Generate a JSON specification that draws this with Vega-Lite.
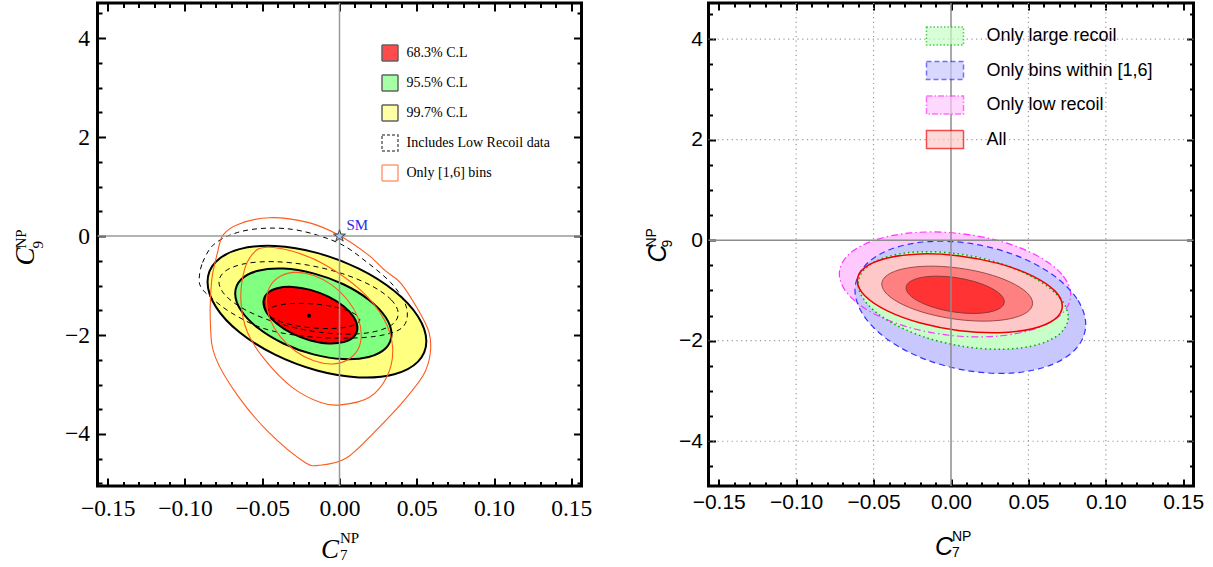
{
"$schema": "https://vega.github.io/schema/vega-lite/v6.json",
"background": "white",
"padding": {"left": 9.5, "top": 0, "right": 0, "bottom": 0},
"autosize": {"type": "pad"},
"bounds": "flush",
"spacing": 127,
"config": {"view": {"stroke": "black", "strokeWidth": 3}, "legend": {"labelLimit": 400}},
"datasets": {
"ly": [{"i":0,"x":0.0562,"y":-2.128},{"i":1,"x":0.0508,"y":-1.627},{"i":2,"x":0.0355,"y":-1.112},{"i":3,"x":0.0125,"y":-0.660},{"i":4,"x":-0.0146,"y":-0.340},{"i":5,"x":-0.0417,"y":-0.201},{"i":6,"x":-0.0647,"y":-0.265},{"i":7,"x":-0.0800,"y":-0.520},{"i":8,"x":-0.0854,"y":-0.930},{"i":9,"x":-0.0800,"y":-1.431},{"i":10,"x":-0.0647,"y":-1.946},{"i":11,"x":-0.0417,"y":-2.398},{"i":12,"x":-0.0146,"y":-2.718},{"i":13,"x":0.0125,"y":-2.857},{"i":14,"x":0.0355,"y":-2.793},{"i":15,"x":0.0508,"y":-2.538}],
"lg": [{"i":0,"x":0.0337,"y":-1.985},{"i":1,"x":0.0299,"y":-1.640},{"i":2,"x":0.0189,"y":-1.286},{"i":3,"x":0.0025,"y":-0.974},{"i":4,"x":-0.0169,"y":-0.754},{"i":5,"x":-0.0363,"y":-0.658},{"i":6,"x":-0.0527,"y":-0.702},{"i":7,"x":-0.0637,"y":-0.878},{"i":8,"x":-0.0675,"y":-1.160},{"i":9,"x":-0.0637,"y":-1.505},{"i":10,"x":-0.0527,"y":-1.860},{"i":11,"x":-0.0363,"y":-2.171},{"i":12,"x":-0.0169,"y":-2.391},{"i":13,"x":0.0025,"y":-2.487},{"i":14,"x":0.0189,"y":-2.443},{"i":15,"x":0.0299,"y":-2.267}],
"lr": [{"i":0,"x":0.0116,"y":-1.857},{"i":1,"x":0.0093,"y":-1.642},{"i":2,"x":0.0027,"y":-1.420},{"i":3,"x":-0.0072,"y":-1.226},{"i":4,"x":-0.0188,"y":-1.088},{"i":5,"x":-0.0304,"y":-1.028},{"i":6,"x":-0.0403,"y":-1.056},{"i":7,"x":-0.0469,"y":-1.165},{"i":8,"x":-0.0492,"y":-1.342},{"i":9,"x":-0.0469,"y":-1.557},{"i":10,"x":-0.0403,"y":-1.779},{"i":11,"x":-0.0304,"y":-1.973},{"i":12,"x":-0.0188,"y":-2.111},{"i":13,"x":-0.0072,"y":-2.171},{"i":14,"x":0.0027,"y":-2.143},{"i":15,"x":0.0093,"y":-2.034}],
"ld": [{"k":1,"i":0,"x":0.0131,"y":-1.691},{"k":1,"i":1,"x":0.0108,"y":-1.593},{"k":1,"i":2,"x":0.0043,"y":-1.497},{"k":1,"i":3,"x":-0.0053,"y":-1.420},{"k":1,"i":4,"x":-0.0168,"y":-1.372},{"k":1,"i":5,"x":-0.0283,"y":-1.361},{"k":1,"i":6,"x":-0.0379,"y":-1.389},{"k":1,"i":7,"x":-0.0444,"y":-1.451},{"k":1,"i":8,"x":-0.0467,"y":-1.539},{"k":1,"i":9,"x":-0.0444,"y":-1.637},{"k":1,"i":10,"x":-0.0379,"y":-1.733},{"k":1,"i":11,"x":-0.0283,"y":-1.810},{"k":1,"i":12,"x":-0.0168,"y":-1.858},{"k":1,"i":13,"x":-0.0053,"y":-1.869},{"k":1,"i":14,"x":0.0043,"y":-1.841},{"k":1,"i":15,"x":0.0108,"y":-1.779},
{"k":2,"i":0,"x":0.038,"y":-1.570},{"k":2,"i":1,"x":0.0336,"y":-1.293},{"k":2,"i":2,"x":0.021,"y":-1.010},{"k":2,"i":3,"x":0.0022,"y":-0.763},{"k":2,"i":4,"x":-0.020,"y":-0.590},{"k":2,"i":5,"x":-0.0422,"y":-0.518},{"k":2,"i":6,"x":-0.061,"y":-0.557},{"k":2,"i":7,"x":-0.0736,"y":-0.702},{"k":2,"i":8,"x":-0.078,"y":-0.930},{"k":2,"i":9,"x":-0.0736,"y":-1.207},{"k":2,"i":10,"x":-0.061,"y":-1.490},{"k":2,"i":11,"x":-0.0422,"y":-1.737},{"k":2,"i":12,"x":-0.020,"y":-1.910},{"k":2,"i":13,"x":0.0022,"y":-1.982},{"k":2,"i":14,"x":0.021,"y":-1.943},{"k":2,"i":15,"x":0.0336,"y":-1.799},
{"k":3,"i":0,"x":-0.0908,"y":-0.872},{"k":3,"i":1,"x":-0.0886,"y":-0.535},{"k":3,"i":2,"x":-0.0811,"y":-0.164},{"k":3,"i":3,"x":-0.066,"y":0.072},{"k":3,"i":4,"x":-0.0466,"y":0.159},{"k":3,"i":5,"x":-0.025,"y":0.105},{"k":3,"i":6,"x":0.0001,"y":-0.151},{"k":3,"i":7,"x":0.018,"y":-0.535},{"k":3,"i":8,"x":0.0331,"y":-0.939},{"k":3,"i":9,"x":0.0417,"y":-1.310},{"k":3,"i":10,"x":0.0439,"y":-1.613},{"k":3,"i":11,"x":0.0406,"y":-1.849},{"k":3,"i":12,"x":0.031,"y":-1.980},{"k":3,"i":13,"x":0.0159,"y":-2.050},{"k":3,"i":14,"x":-0.0057,"y":-2.060},{"k":3,"i":15,"x":-0.0294,"y":-2.000},{"k":3,"i":16,"x":-0.0509,"y":-1.849},{"k":3,"i":17,"x":-0.0703,"y":-1.546},{"k":3,"i":18,"x":-0.0832,"y":-1.242},{"k":3,"i":19,"x":-0.0892,"y":-1.054}],
"lo": [{"k":1,"i":0,"x":0.0141,"y":-1.995},{"k":1,"i":1,"x":0.0118,"y":-1.639},{"k":1,"i":2,"x":0.0051,"y":-1.287},{"k":1,"i":3,"x":-0.0048,"y":-0.992},{"k":1,"i":4,"x":-0.0166,"y":-0.798},{"k":1,"i":5,"x":-0.0284,"y":-0.735},{"k":1,"i":6,"x":-0.0383,"y":-0.814},{"k":1,"i":7,"x":-0.045,"y":-1.020},{"k":1,"i":8,"x":-0.0473,"y":-1.325},{"k":1,"i":9,"x":-0.045,"y":-1.681},{"k":1,"i":10,"x":-0.0383,"y":-2.033},{"k":1,"i":11,"x":-0.0284,"y":-2.328},{"k":1,"i":12,"x":-0.0166,"y":-2.522},{"k":1,"i":13,"x":-0.0048,"y":-2.585},{"k":1,"i":14,"x":0.0051,"y":-2.506},{"k":1,"i":15,"x":0.0118,"y":-2.300},
{"k":2,"i":0,"x":-0.0488,"y":-0.231},{"k":2,"i":1,"x":-0.0315,"y":-0.299},{"k":2,"i":2,"x":-0.0100,"y":-0.568},{"k":2,"i":3,"x":0.0137,"y":-1.094},{"k":2,"i":4,"x":0.0288,"y":-1.680},{"k":2,"i":5,"x":0.0344,"y":-2.253},{"k":2,"i":6,"x":0.0309,"y":-2.826},{"k":2,"i":7,"x":0.0191,"y":-3.264},{"k":2,"i":8,"x":0.0008,"y":-3.412},{"k":2,"i":9,"x":-0.0121,"y":-3.365},{"k":2,"i":10,"x":-0.0304,"y":-3.062},{"k":2,"i":11,"x":-0.0477,"y":-2.523},{"k":2,"i":12,"x":-0.0595,"y":-1.950},{"k":2,"i":13,"x":-0.0638,"y":-1.310},{"k":2,"i":14,"x":-0.0617,"y":-0.703},{"k":2,"i":15,"x":-0.0563,"y":-0.366},
{"k":3,"i":0,"x":-0.0753,"y":0.022},{"k":3,"i":1,"x":-0.0653,"y":0.240},{"k":3,"i":2,"x":-0.0454,"y":0.371},{"k":3,"i":3,"x":-0.0205,"y":0.276},{"k":3,"i":4,"x":-0.0006,"y":0.022},{"k":3,"i":5,"x":0.0180,"y":-0.366},{"k":3,"i":6,"x":0.0296,"y":-0.700},{"k":3,"i":7,"x":0.0396,"y":-0.950},{"k":3,"i":8,"x":0.0505,"y":-1.470},{"k":3,"i":9,"x":0.0579,"y":-1.942},{"k":3,"i":10,"x":0.0587,"y":-2.378},{"k":3,"i":11,"x":0.0542,"y":-2.815},{"k":3,"i":12,"x":0.0417,"y":-3.324},{"k":3,"i":13,"x":0.0243,"y":-3.905},{"k":3,"i":14,"x":0.0044,"y":-4.487},{"k":3,"i":15,"x":-0.0131,"y":-4.633},{"k":3,"i":16,"x":-0.0230,"y":-4.560},{"k":3,"i":17,"x":-0.0454,"y":-3.978},{"k":3,"i":18,"x":-0.0653,"y":-3.251},{"k":3,"i":19,"x":-0.0803,"y":-2.451},{"k":3,"i":20,"x":-0.0835,"y":-1.796},{"k":3,"i":21,"x":-0.0828,"y":-0.924},{"k":3,"i":22,"x":-0.0790,"y":-0.342}],
"lleg": [{"s":"68.3% C.L"},{"s":"95.5% C.L"},{"s":"99.7% C.L"},{"s":"Includes Low Recoil data"},{"s":"Only [1,6] bins"}],
"rleg": [{"s":"Only large recoil"},{"s":"Only bins within [1,6]"},{"s":"Only low recoil"},{"s":"All"}],
"lpt": [{"x":-0.0197,"y":-1.61}],
"lsm": [{"x":0,"y":0,"lab":"SM"}],
"zero": [{"v":0}],
"gx": [{"v":-0.1},{"v":-0.05},{"v":0.05},{"v":0.1}],
"gy": [{"v":-4},{"v":-2},{"v":2},{"v":4}],
"rm": [{"i":0,"x":0.0773,"y":-1.089},{"i":1,"x":0.0716,"y":-0.681},{"i":2,"x":0.0554,"y":-0.305},{"i":3,"x":0.0312,"y":-0.015},{"i":4,"x":0.0026,"y":0.143},{"i":5,"x":-0.026,"y":0.145},{"i":6,"x":-0.0502,"y":-0.009},{"i":7,"x":-0.0664,"y":-0.295},{"i":8,"x":-0.0721,"y":-0.671},{"i":9,"x":-0.0664,"y":-1.079},{"i":10,"x":-0.0502,"y":-1.456},{"i":11,"x":-0.026,"y":-1.745},{"i":12,"x":0.0026,"y":-1.903},{"i":13,"x":0.0312,"y":-1.905},{"i":14,"x":0.0554,"y":-1.751},{"i":15,"x":0.0716,"y":-1.465}],
"rb": [{"i":0,"x":0.087,"y":-1.677},{"i":1,"x":0.0813,"y":-1.165},{"i":2,"x":0.0652,"y":-0.679},{"i":3,"x":0.041,"y":-0.293},{"i":4,"x":0.0125,"y":-0.065},{"i":5,"x":-0.016,"y":-0.031},{"i":6,"x":-0.0402,"y":-0.195},{"i":7,"x":-0.0563,"y":-0.533},{"i":8,"x":-0.062,"y":-0.993},{"i":9,"x":-0.0563,"y":-1.505},{"i":10,"x":-0.0402,"y":-1.991},{"i":11,"x":-0.016,"y":-2.378},{"i":12,"x":0.0125,"y":-2.605},{"i":13,"x":0.041,"y":-2.640},{"i":14,"x":0.0652,"y":-2.475},{"i":15,"x":0.0813,"y":-2.138}],
"rg": [{"i":0,"x":0.0757,"y":-1.530},{"i":1,"x":0.0705,"y":-1.155},{"i":2,"x":0.0558,"y":-0.788},{"i":3,"x":0.0339,"y":-0.483},{"i":4,"x":0.0079,"y":-0.287},{"i":5,"x":-0.0181,"y":-0.230},{"i":6,"x":-0.04,"y":-0.321},{"i":7,"x":-0.0547,"y":-0.545},{"i":8,"x":-0.0599,"y":-0.870},{"i":9,"x":-0.0547,"y":-1.245},{"i":10,"x":-0.04,"y":-1.612},{"i":11,"x":-0.0181,"y":-1.917},{"i":12,"x":0.0079,"y":-2.113},{"i":13,"x":0.0339,"y":-2.170},{"i":14,"x":0.0558,"y":-2.079},{"i":15,"x":0.0705,"y":-1.855}],
"ra": [{"i":0,"x":0.0719,"y":-1.308},{"i":1,"x":0.0669,"y":-1.004},{"i":2,"x":0.0525,"y":-0.709},{"i":3,"x":0.0311,"y":-0.466},{"i":4,"x":0.0057,"y":-0.313},{"i":5,"x":-0.0197,"y":-0.273},{"i":6,"x":-0.0411,"y":-0.354},{"i":7,"x":-0.0555,"y":-0.540},{"i":8,"x":-0.0605,"y":-0.806},{"i":9,"x":-0.0555,"y":-1.110},{"i":10,"x":-0.0411,"y":-1.406},{"i":11,"x":-0.0197,"y":-1.648},{"i":12,"x":0.0057,"y":-1.801},{"i":13,"x":0.0311,"y":-1.841},{"i":14,"x":0.0525,"y":-1.761},{"i":15,"x":0.0669,"y":-1.574}],
"r2": [{"i":0,"x":0.0527,"y":-1.254},{"i":1,"x":0.049,"y":-1.043},{"i":2,"x":0.0384,"y":-0.836},{"i":3,"x":0.0227,"y":-0.663},{"i":4,"x":0.004,"y":-0.551},{"i":5,"x":-0.0147,"y":-0.517},{"i":6,"x":-0.0304,"y":-0.567},{"i":7,"x":-0.041,"y":-0.692},{"i":8,"x":-0.0447,"y":-0.874},{"i":9,"x":-0.041,"y":-1.084},{"i":10,"x":-0.0304,"y":-1.292},{"i":11,"x":-0.0147,"y":-1.464},{"i":12,"x":0.004,"y":-1.576},{"i":13,"x":0.0227,"y":-1.610},{"i":14,"x":0.0384,"y":-1.561},{"i":15,"x":0.049,"y":-1.436}],
"r1": [{"i":0,"x":0.0344,"y":-1.224},{"i":1,"x":0.032,"y":-1.082},{"i":2,"x":0.0251,"y":-0.940},{"i":3,"x":0.0148,"y":-0.821},{"i":4,"x":0.0027,"y":-0.742},{"i":5,"x":-0.0094,"y":-0.716},{"i":6,"x":-0.0197,"y":-0.746},{"i":7,"x":-0.0266,"y":-0.828},{"i":8,"x":-0.029,"y":-0.950},{"i":9,"x":-0.0266,"y":-1.093},{"i":10,"x":-0.0197,"y":-1.234},{"i":11,"x":-0.0094,"y":-1.353},{"i":12,"x":0.0027,"y":-1.432},{"i":13,"x":0.0148,"y":-1.458},{"i":14,"x":0.0251,"y":-1.428},{"i":15,"x":0.032,"y":-1.346}]
},
"hconcat": [
{
 "width": 484, "height": 483,
 "layer": [
  {"data": {"name": "ly"}, "mark": {"type": "line", "interpolate": "cardinal-closed", "fill": "#ffff80", "stroke": "black", "strokeWidth": 2},
   "encoding": {
    "x": {"field": "x", "type": "quantitative", "scale": {"domain": [-0.1566, 0.1566], "nice": false, "zero": false},
      "axis": {"orient": "bottom", "values": [-0.15,-0.1,-0.05,0,0.05,0.1,0.15], "format": ".2f", "domain": false, "grid": false, "tickSize": -8, "tickWidth": 2, "tickColor": "black", "labelFont": "Liberation Serif", "labelFontSize": 23.5, "labelColor": "black", "labelPadding": 18, "labelFlush": false, "labelOverlap": false, "title": "C", "titleFont": "Liberation Serif", "titleFontStyle": "italic", "titleFontWeight": "normal", "titleFontSize": 27, "titleColor": "black", "titleX": 223, "titleY": 71, "titleAlign": "left", "titleBaseline": "alphabetic"}},
    "y": {"field": "y", "type": "quantitative", "scale": {"domain": [-5.051, 4.709], "nice": false, "zero": false},
      "axis": {"orient": "left", "values": [-4,-2,0,2,4], "format": "d", "domain": false, "grid": false, "tickSize": -8, "tickWidth": 2, "tickColor": "black", "labelFont": "Liberation Serif", "labelFontSize": 23.5, "labelColor": "black", "labelPadding": 16, "labelFlush": false, "labelOverlap": false, "title": "C", "titleFont": "Liberation Serif", "titleFontStyle": "italic", "titleFontWeight": "normal", "titleFontSize": 27, "titleColor": "black", "titleAngle": -90, "titleX": -63.7, "titleY": 262, "titleAlign": "left", "titleBaseline": "alphabetic"}},
    "order": {"field": "i", "type": "quantitative"}
   }},
  {"data": {"name": "lg"}, "mark": {"type": "line", "interpolate": "cardinal-closed", "fill": "#80ff80", "stroke": "black", "strokeWidth": 2},
   "encoding": {
    "x": {"field": "x", "type": "quantitative",
      "axis": {"orient": "bottom", "values": [-0.14,-0.13,-0.12,-0.11,-0.09,-0.08,-0.07,-0.06,-0.04,-0.03,-0.02,-0.01,0.01,0.02,0.03,0.04,0.06,0.07,0.08,0.09,0.11,0.12,0.13,0.14], "labels": false, "domain": false, "grid": false, "tickSize": -4.5, "tickWidth": 2, "tickColor": "black", "title": ["NP", "7"], "titleFont": "Liberation Serif", "titleFontStyle": "normal", "titleFontWeight": "normal", "titleFontSize": 15, "titleLineHeight": 17, "titleColor": "black", "titleX": 242, "titleY": 44, "titleAlign": "left", "titleBaseline": "top"}},
    "y": {"field": "y", "type": "quantitative",
      "axis": {"orient": "left", "values": [-5,-4.5,-3.5,-3,-2.5,-1.5,-1,-0.5,0.5,1,1.5,2.5,3,3.5,4.5], "labels": false, "domain": false, "grid": false, "tickSize": -4.5, "tickWidth": 2, "tickColor": "black", "title": ["NP", "9"], "titleFont": "Liberation Serif", "titleFontStyle": "normal", "titleFontWeight": "normal", "titleFontSize": 15, "titleLineHeight": 17, "titleColor": "black", "titleAngle": -90, "titleX": -84, "titleY": 245, "titleAlign": "left", "titleBaseline": "top"}},
    "order": {"field": "i", "type": "quantitative"}
   }},
  {"data": {"name": "lr"}, "mark": {"type": "line", "interpolate": "cardinal-closed", "fill": "#ff0000", "stroke": "black", "strokeWidth": 2},
   "encoding": {
    "x": {"field": "x", "type": "quantitative", "axis": {"orient": "top", "values": [-0.15,-0.1,-0.05,0,0.05,0.1,0.15], "labels": false, "domain": false, "grid": false, "tickSize": -8, "tickWidth": 2, "tickColor": "black", "title": null}},
    "y": {"field": "y", "type": "quantitative", "axis": {"orient": "right", "values": [-4,-2,0,2,4], "labels": false, "domain": false, "grid": false, "tickSize": -8, "tickWidth": 2, "tickColor": "black", "title": null}},
    "order": {"field": "i", "type": "quantitative"}
   }},
  {"data": {"name": "ld"}, "mark": {"type": "line", "interpolate": "cardinal-closed", "stroke": "black", "strokeWidth": 1, "strokeDash": [5, 4]},
   "encoding": {
    "x": {"field": "x", "type": "quantitative", "axis": {"orient": "top", "values": [-0.14,-0.13,-0.12,-0.11,-0.09,-0.08,-0.07,-0.06,-0.04,-0.03,-0.02,-0.01,0.01,0.02,0.03,0.04,0.06,0.07,0.08,0.09,0.11,0.12,0.13,0.14], "labels": false, "domain": false, "grid": false, "tickSize": -4.5, "tickWidth": 2, "tickColor": "black", "title": null}},
    "y": {"field": "y", "type": "quantitative", "axis": {"orient": "right", "values": [-5,-4.5,-3.5,-3,-2.5,-1.5,-1,-0.5,0.5,1,1.5,2.5,3,3.5,4.5], "labels": false, "domain": false, "grid": false, "tickSize": -4.5, "tickWidth": 2, "tickColor": "black", "title": null}},
    "detail": {"field": "k", "type": "nominal"},
    "order": {"field": "i", "type": "quantitative"}
   }},
  {"data": {"name": "lo"}, "mark": {"type": "line", "interpolate": "cardinal-closed", "stroke": "#ff5a1a", "strokeWidth": 1.1},
   "encoding": {
    "x": {"field": "x", "type": "quantitative", "axis": null},
    "y": {"field": "y", "type": "quantitative", "axis": null},
    "detail": {"field": "k", "type": "nominal"},
    "order": {"field": "i", "type": "quantitative"}
   }},
  {"data": {"name": "zero"}, "mark": {"type": "rule", "stroke": "#9a9a9a", "strokeWidth": 1.5},
   "encoding": {"x": {"field": "v", "type": "quantitative", "axis": null}}},
  {"data": {"name": "zero"}, "mark": {"type": "rule", "stroke": "#9a9a9a", "strokeWidth": 1.5},
   "encoding": {"y": {"field": "v", "type": "quantitative", "axis": null}}},
  {"data": {"name": "lpt"}, "mark": {"type": "point", "shape": "circle", "filled": true, "fill": "black", "size": 16, "opacity": 1},
   "encoding": {"x": {"field": "x", "type": "quantitative", "axis": null}, "y": {"field": "y", "type": "quantitative", "axis": null}}},
  {"data": {"name": "lsm"}, "mark": {"type": "point", "shape": "M0,-1L0.2245,-0.309L0.951,-0.309L0.363,0.118L0.588,0.809L0,0.382L-0.588,0.809L-0.363,0.118L-0.951,-0.309L-0.2245,-0.309Z", "filled": true, "fill": "#a9c2e6", "stroke": "#444444", "strokeWidth": 1, "size": 160, "opacity": 1},
   "encoding": {"x": {"field": "x", "type": "quantitative", "axis": null}, "y": {"field": "y", "type": "quantitative", "axis": null}}},
  {"data": {"name": "lsm"}, "mark": {"type": "text", "align": "left", "baseline": "alphabetic", "dx": 7, "dy": -6, "font": "Liberation Serif", "fontSize": 15, "fill": "#2a2ae6"},
   "encoding": {"x": {"field": "x", "type": "quantitative", "axis": null}, "y": {"field": "y", "type": "quantitative", "axis": null}, "text": {"field": "lab"}}},
  {"data": {"name": "lleg"}, "mark": {"type": "point", "shape": "square", "filled": true, "size": 0, "strokeWidth": 1.2},
   "encoding": {
    "fill": {"field": "s", "type": "nominal", "scale": {"domain": ["68.3% C.L", "95.5% C.L", "99.7% C.L", "Includes Low Recoil data", "Only [1,6] bins"], "range": ["#ff0000", "#80ff80", "#ffff80", "#ffffff", "#ffffff"]},
      "legend": {"orient": "none", "legendX": 283.5, "legendY": 41, "title": null, "padding": 0, "symbolType": "square", "symbolSize": 256, "labelFont": "Liberation Serif", "labelFontSize": 14, "labelColor": "black", "labelOffset": 7.5, "labelLimit": 400, "rowPadding": 8}},
    "stroke": {"field": "s", "type": "nominal", "scale": {"domain": ["68.3% C.L", "95.5% C.L", "99.7% C.L", "Includes Low Recoil data", "Only [1,6] bins"], "range": ["#222222", "#222222", "#222222", "#222222", "#ff7040"]},
      "legend": {"orient": "none", "legendX": 283.5, "legendY": 41, "title": null, "padding": 0, "symbolType": "square", "symbolSize": 256, "labelFont": "Liberation Serif", "labelFontSize": 14, "labelColor": "black", "labelOffset": 7.5, "labelLimit": 400, "rowPadding": 8}},
    "strokeDash": {"field": "s", "type": "nominal", "scale": {"domain": ["68.3% C.L", "95.5% C.L", "99.7% C.L", "Includes Low Recoil data", "Only [1,6] bins"], "range": [[1, 0], [1, 0], [1, 0], [3, 2], [1, 0]]},
      "legend": {"orient": "none", "legendX": 283.5, "legendY": 41, "title": null, "padding": 0, "symbolType": "square", "symbolSize": 256, "labelFont": "Liberation Serif", "labelFontSize": 14, "labelColor": "black", "labelOffset": 7.5, "labelLimit": 400, "rowPadding": 8}}
   }}
 ],
 "resolve": {"axis": {"x": "independent", "y": "independent"}}
},
{
 "width": 485, "height": 483,
 "layer": [
  {"data": {"name": "gx"}, "mark": {"type": "rule", "stroke": "#9a9a9a", "strokeWidth": 1.2, "strokeDash": [1.2, 3.5]},
   "encoding": {"x": {"field": "v", "type": "quantitative", "scale": {"domain": [-0.1566, 0.1566], "nice": false, "zero": false}, "axis": null}}},
  {"data": {"name": "gy"}, "mark": {"type": "rule", "stroke": "#9a9a9a", "strokeWidth": 1.2, "strokeDash": [1.2, 3.5]},
   "encoding": {"y": {"field": "v", "type": "quantitative", "scale": {"domain": [-4.890, 4.718], "nice": false, "zero": false}, "axis": null}}},
  {"data": {"name": "rm"}, "mark": {"type": "line", "interpolate": "cardinal-closed", "fill": "#ffc8ff", "strokeWidth": 0},
   "encoding": {
    "x": {"field": "x", "type": "quantitative",
      "axis": {"orient": "bottom", "values": [-0.15,-0.1,-0.05,0,0.05,0.1,0.15], "format": ".2f", "domain": false, "grid": false, "tickSize": -7, "tickWidth": 2, "tickColor": "black", "labelFont": "Liberation Sans", "labelFontSize": 21, "labelColor": "black", "labelPadding": 12, "labelFlush": false, "labelOverlap": false, "title": "C", "titleFont": "Liberation Sans", "titleFontStyle": "italic", "titleFontWeight": "normal", "titleFontSize": 25, "titleColor": "black", "titleX": 226, "titleY": 68, "titleAlign": "left", "titleBaseline": "alphabetic"}},
    "y": {"field": "y", "type": "quantitative",
      "axis": {"orient": "left", "values": [-4,-2,0,2,4], "format": "d", "domain": false, "grid": false, "tickSize": -7, "tickWidth": 2, "tickColor": "black", "labelFont": "Liberation Sans", "labelFontSize": 21, "labelColor": "black", "labelPadding": 13, "labelFlush": false, "labelOverlap": false, "title": "C", "titleFont": "Liberation Sans", "titleFontStyle": "italic", "titleFontWeight": "normal", "titleFontSize": 25, "titleColor": "black", "titleAngle": -90, "titleX": -43.3, "titleY": 259, "titleAlign": "left", "titleBaseline": "alphabetic"}},
    "order": {"field": "i", "type": "quantitative"}
   }},
  {"data": {"name": "rb"}, "mark": {"type": "line", "interpolate": "cardinal-closed", "fill": "#c8c8ff", "strokeWidth": 0},
   "encoding": {
    "x": {"field": "x", "type": "quantitative",
      "axis": {"orient": "bottom", "values": [-0.14,-0.13,-0.12,-0.11,-0.09,-0.08,-0.07,-0.06,-0.04,-0.03,-0.02,-0.01,0.01,0.02,0.03,0.04,0.06,0.07,0.08,0.09,0.11,0.12,0.13,0.14], "labels": false, "domain": false, "grid": false, "tickSize": -4, "tickWidth": 2, "tickColor": "black", "title": ["NP", "7"], "titleFont": "Liberation Sans", "titleFontStyle": "normal", "titleFontWeight": "normal", "titleFontSize": 14, "titleLineHeight": 16, "titleColor": "black", "titleX": 243, "titleY": 43, "titleAlign": "left", "titleBaseline": "top"}},
    "y": {"field": "y", "type": "quantitative",
      "axis": {"orient": "left", "values": [-4.5,-3.5,-3,-2.5,-1.5,-1,-0.5,0.5,1,1.5,2.5,3,3.5,4.5], "labels": false, "domain": false, "grid": false, "tickSize": -4, "tickWidth": 2, "tickColor": "black", "title": ["NP", "9"], "titleFont": "Liberation Sans", "titleFontStyle": "normal", "titleFontWeight": "normal", "titleFontSize": 14, "titleLineHeight": 16, "titleColor": "black", "titleAngle": -90, "titleX": -64.3, "titleY": 244, "titleAlign": "left", "titleBaseline": "top"}},
    "order": {"field": "i", "type": "quantitative"}
   }},
  {"data": {"name": "rg"}, "mark": {"type": "line", "interpolate": "cardinal-closed", "fill": "#c8ffc8", "strokeWidth": 0},
   "encoding": {
    "x": {"field": "x", "type": "quantitative", "axis": {"orient": "top", "values": [-0.15,-0.1,-0.05,0,0.05,0.1,0.15], "labels": false, "domain": false, "grid": false, "tickSize": -7, "tickWidth": 2, "tickColor": "black", "title": null}},
    "y": {"field": "y", "type": "quantitative", "axis": {"orient": "right", "values": [-4,-2,0,2,4], "labels": false, "domain": false, "grid": false, "tickSize": -7, "tickWidth": 2, "tickColor": "black", "title": null}},
    "order": {"field": "i", "type": "quantitative"}
   }},
  {"data": {"name": "ra"}, "mark": {"type": "line", "interpolate": "cardinal-closed", "fill": "#ffc8c8", "strokeWidth": 0},
   "encoding": {
    "x": {"field": "x", "type": "quantitative", "axis": {"orient": "top", "values": [-0.14,-0.13,-0.12,-0.11,-0.09,-0.08,-0.07,-0.06,-0.04,-0.03,-0.02,-0.01,0.01,0.02,0.03,0.04,0.06,0.07,0.08,0.09,0.11,0.12,0.13,0.14], "labels": false, "domain": false, "grid": false, "tickSize": -4, "tickWidth": 2, "tickColor": "black", "title": null}},
    "y": {"field": "y", "type": "quantitative", "axis": {"orient": "right", "values": [-4.5,-3.5,-3,-2.5,-1.5,-1,-0.5,0.5,1,1.5,2.5,3,3.5,4.5], "labels": false, "domain": false, "grid": false, "tickSize": -4, "tickWidth": 2, "tickColor": "black", "title": null}},
    "order": {"field": "i", "type": "quantitative"}
   }},
  {"data": {"name": "r2"}, "mark": {"type": "line", "interpolate": "cardinal-closed", "fill": "#ff8080", "stroke": "#9a4a4a", "strokeWidth": 1},
   "encoding": {"x": {"field": "x", "type": "quantitative", "axis": null}, "y": {"field": "y", "type": "quantitative", "axis": null}, "order": {"field": "i", "type": "quantitative"}}},
  {"data": {"name": "r1"}, "mark": {"type": "line", "interpolate": "cardinal-closed", "fill": "#ff3333", "stroke": "#8a3a3a", "strokeWidth": 1},
   "encoding": {"x": {"field": "x", "type": "quantitative", "axis": null}, "y": {"field": "y", "type": "quantitative", "axis": null}, "order": {"field": "i", "type": "quantitative"}}},
  {"data": {"name": "rm"}, "mark": {"type": "line", "interpolate": "cardinal-closed", "stroke": "#ff33ff", "strokeWidth": 1.2, "strokeDash": [7, 3, 1.5, 3]},
   "encoding": {"x": {"field": "x", "type": "quantitative", "axis": null}, "y": {"field": "y", "type": "quantitative", "axis": null}, "order": {"field": "i", "type": "quantitative"}}},
  {"data": {"name": "rb"}, "mark": {"type": "line", "interpolate": "cardinal-closed", "stroke": "#3333ff", "strokeWidth": 1.2, "strokeDash": [6, 4]},
   "encoding": {"x": {"field": "x", "type": "quantitative", "axis": null}, "y": {"field": "y", "type": "quantitative", "axis": null}, "order": {"field": "i", "type": "quantitative"}}},
  {"data": {"name": "rg"}, "mark": {"type": "line", "interpolate": "cardinal-closed", "stroke": "#00aa00", "strokeWidth": 1.5, "strokeDash": [1.5, 3]},
   "encoding": {"x": {"field": "x", "type": "quantitative", "axis": null}, "y": {"field": "y", "type": "quantitative", "axis": null}, "order": {"field": "i", "type": "quantitative"}}},
  {"data": {"name": "ra"}, "mark": {"type": "line", "interpolate": "cardinal-closed", "stroke": "#ee0000", "strokeWidth": 1.5},
   "encoding": {"x": {"field": "x", "type": "quantitative", "axis": null}, "y": {"field": "y", "type": "quantitative", "axis": null}, "order": {"field": "i", "type": "quantitative"}}},
  {"data": {"name": "zero"}, "mark": {"type": "rule", "stroke": "#8c8c8c", "strokeWidth": 1.5},
   "encoding": {"x": {"field": "v", "type": "quantitative", "axis": null}}},
  {"data": {"name": "zero"}, "mark": {"type": "rule", "stroke": "#8c8c8c", "strokeWidth": 1.5},
   "encoding": {"y": {"field": "v", "type": "quantitative", "axis": null}}},
  {"data": {"name": "rleg"}, "mark": {"type": "point", "shape": "M-1,-0.486H1V0.486H-1Z", "filled": true, "size": 0, "strokeWidth": 1.3},
   "encoding": {
    "fill": {"field": "s", "type": "nominal", "scale": {"domain": ["Only large recoil", "Only bins within [1,6]", "Only low recoil", "All"], "range": ["#c8ffc8", "#c8c8ff", "#ffc8ff", "#ffc8c8"]},
      "legend": {"orient": "none", "legendX": 217, "legendY": 13.5, "title": null, "padding": 0, "symbolType": "M-1,-0.486H1V0.486H-1Z", "symbolSize": 1369, "labelFont": "Liberation Sans", "labelFontSize": 18, "labelColor": "black", "labelOffset": 22, "labelLimit": 400, "rowPadding": 2.5}},
    "stroke": {"field": "s", "type": "nominal", "scale": {"domain": ["Only large recoil", "Only bins within [1,6]", "Only low recoil", "All"], "range": ["#00bb00", "#3333ff", "#ff33ff", "#ee0000"]},
      "legend": {"orient": "none", "legendX": 217, "legendY": 13.5, "title": null, "padding": 0, "symbolType": "M-1,-0.486H1V0.486H-1Z", "symbolSize": 1369, "labelFont": "Liberation Sans", "labelFontSize": 18, "labelColor": "black", "labelOffset": 22, "labelLimit": 400, "rowPadding": 2.5}},
    "strokeDash": {"field": "s", "type": "nominal", "scale": {"domain": ["Only large recoil", "Only bins within [1,6]", "Only low recoil", "All"], "range": [[1.5, 2], [5, 3], [6, 2, 1.5, 2], [1, 0]]},
      "legend": {"orient": "none", "legendX": 217, "legendY": 13.5, "title": null, "padding": 0, "symbolType": "M-1,-0.486H1V0.486H-1Z", "symbolSize": 1369, "labelFont": "Liberation Sans", "labelFontSize": 18, "labelColor": "black", "labelOffset": 22, "labelLimit": 400, "rowPadding": 2.5}}
   }}
 ],
 "resolve": {"axis": {"x": "independent", "y": "independent"}}
}
],
"resolve": {"scale": {"x": "independent", "y": "independent", "fill": "independent", "stroke": "independent", "strokeDash": "independent"}, "legend": {"fill": "independent", "stroke": "independent", "strokeDash": "independent"}}
}
